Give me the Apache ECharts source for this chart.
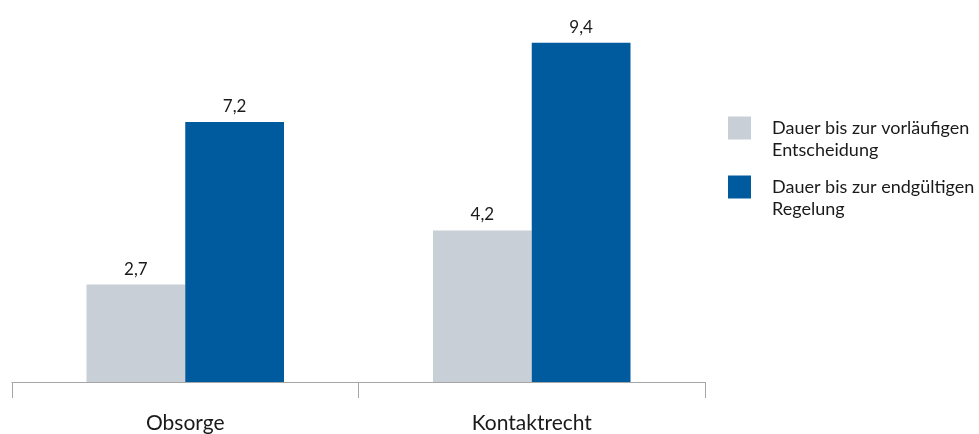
<!DOCTYPE html>
<html>
<head>
<meta charset="utf-8">
<script src="https://cdn.jsdelivr.net/npm/echarts@6/dist/echarts.min.js"></script>
<style>
	html, body { margin: 0; padding: 0; background: #fff; }
	#chart { width: 979px; height: 434px; }
</style>
</head>
<body>
<div id="chart"></div>
<script>
var categories = ["Obsorge", "Kontaktrecht"];
var seriesNames = ["Dauer bis zur vorläufigen\nEntscheidung", "Dauer bis zur endgültigen\nRegelung"];
var vorlaeufig = [2.7, 4.2];
var endgueltig = [7.2, 9.4];

var font = "Lato, 'Open Sans', sans-serif";

function fmt(p) {
	return String(p.value).replace(".", ",");
}

// erste Zeile auf Höhe des Symbols, Abstand links über {s|}
function legendFmt(name) {
	var l = name.split("\n");
	return "{s|}\n{s|}" + l[0] + "\n{s|}" + l[1];
}

var myChart = echarts.init(document.getElementById("chart"));

function bar(name, data, color) {
	return {
		name : name,
		type : "bar",
		data : data,
		barGap : "0%",
		barCategoryGap : "43%",
		itemStyle : { color : color },
		label : {
			show : true,
			position : "top",
			distance : 7,
			formatter : fmt,
			color : "#1a1a1a",
			fontFamily : font,
			fontSize : 17
		}
	};
}

var option = {
	animation : false,
	grid : { left : 12, right : 274, top : 21, bottom : 52 },
	legend : {
		orient : "vertical",
		left : 728,
		top : 95,
		padding : 0,
		itemWidth : 23,
		itemHeight : 23,
		itemGap : -7,
		icon : "rect",
		formatter : legendFmt,
		textStyle : {
			color : "#1a1a1a",
			fontFamily : font,
			fontSize : 18,
			lineHeight : 22,
			rich : {
				s : { width : 16, lineHeight : 22 }
			}
		},
		data : seriesNames
	},
	xAxis : {
		type : "category",
		data : categories,
		axisLine : { lineStyle : { color : "#a6a6a6", width : 1 } },
		axisTick : { show : true, length : 16, lineStyle : { color : "#a6a6a6" } },
		axisLabel : { margin : 31, color : "#1a1a1a", fontFamily : font, fontSize : 21 }
	},
	yAxis : {
		type : "value",
		min : 0,
		max : 10,
		show : false,
		splitLine : { show : false }
	},
	series : [
		bar(seriesNames[0], vorlaeufig, "#c8cfd6"),
		bar(seriesNames[1], endgueltig, "#005a9e")
	]
};

myChart.setOption(option);
</script>
</body>
</html>
